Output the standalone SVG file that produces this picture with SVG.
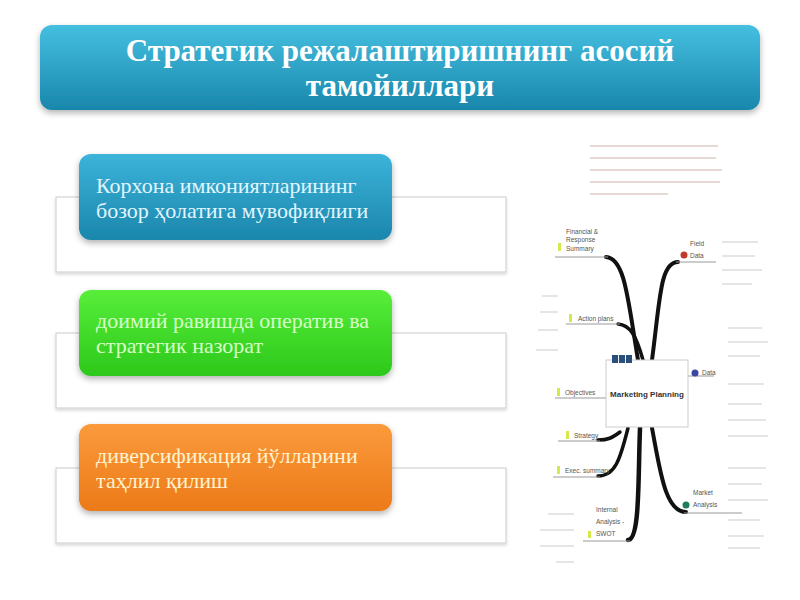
<svg xmlns="http://www.w3.org/2000/svg" width="800" height="600" viewBox="0 0 800 600">
<defs>
<linearGradient id="gTitle" x1="0" y1="0" x2="0" y2="1"><stop offset="0" stop-color="#45bfe0"/><stop offset="1" stop-color="#1887ab"/></linearGradient>
<linearGradient id="gBlue" x1="0" y1="0" x2="0" y2="1"><stop offset="0" stop-color="#3cb3da"/><stop offset="1" stop-color="#1b86ac"/></linearGradient>
<linearGradient id="gGreen" x1="0" y1="0" x2="0" y2="1"><stop offset="0" stop-color="#58ee3a"/><stop offset="1" stop-color="#2cc81b"/></linearGradient>
<linearGradient id="gOrange" x1="0" y1="0" x2="0" y2="1"><stop offset="0" stop-color="#fb9a3c"/><stop offset="1" stop-color="#ec7a18"/></linearGradient>
<filter id="sh" x="-10%" y="-10%" width="120%" height="130%"><feDropShadow dx="0" dy="3" stdDeviation="3" flood-color="#000" flood-opacity="0.3"/></filter>
<filter id="sh2" x="-5%" y="-10%" width="110%" height="130%"><feDropShadow dx="0" dy="2" stdDeviation="1.5" flood-color="#000" flood-opacity="0.15"/></filter>
</defs>
<style>
.title{font-family:"Liberation Serif",serif;font-weight:bold;font-size:31px;fill:#fff;text-anchor:middle}
.lbl{font-family:"Liberation Serif",serif;font-size:22px}
.outer{fill:#fff;stroke:#d2d6d6;stroke-width:1.2}
.br{fill:none;stroke:#111;stroke-linecap:round}
.ul{fill:none;stroke:#999;stroke-width:1}
.mm{font-family:"Liberation Sans",sans-serif;font-size:6.5px;fill:#555}
.faint{stroke:#ddd;stroke-width:1.5}
.fp{stroke:#e6d8d4;stroke-width:2}
</style>
<rect width="800" height="600" fill="#fff"/>
<g id="title">
<rect x="40" y="25" width="720" height="85" rx="12" fill="url(#gTitle)" filter="url(#sh)"/>
<text class="title" x="400" y="61">Стратегик режалаштиришнинг асосий</text>
<text class="title" x="400" y="96">тамойиллари</text>
</g>
<g id="item1">
<rect class="outer" x="56" y="197" width="450" height="75" filter="url(#sh2)"/>
<rect x="79" y="154" width="313" height="86" rx="12" fill="url(#gBlue)" filter="url(#sh)"/>
<text class="lbl" x="96" y="193" fill="#e2f6ff">Корхона имкониятларининг</text>
<text class="lbl" x="96" y="218" fill="#e2f6ff">бозор ҳолатига мувофиқлиги</text>
</g>
<g id="item2">
<rect class="outer" x="56" y="333" width="450" height="75" filter="url(#sh2)"/>
<rect x="79" y="290" width="313" height="86" rx="12" fill="url(#gGreen)" filter="url(#sh)"/>
<text class="lbl" x="96" y="328" fill="#d6ffc8">доимий равишда оператив ва</text>
<text class="lbl" x="96" y="353" fill="#d6ffc8">стратегик назорат</text>
</g>
<g id="item3">
<rect class="outer" x="56" y="468" width="450" height="75" filter="url(#sh2)"/>
<rect x="79" y="424" width="313" height="87" rx="12" fill="url(#gOrange)" filter="url(#sh)"/>
<text class="lbl" x="96" y="463" fill="#fff3cf">диверсификация йўлларини</text>
<text class="lbl" x="96" y="488" fill="#fff3cf">таҳлил қилиш</text>
</g>
<g id="connectors">
<path class="br" stroke-width="4" d="M638,360 C628,300 625,258 606,257"/>
<path class="br" stroke-width="3.5" d="M643,360 C636,335 630,325 618,324"/>
<path class="br" stroke-width="4" d="M652,360 C660,300 660,262 678,262"/>
<path class="br" stroke-width="3.5" d="M620,432 C612,438 608,440 598,440"/>
<path class="br" stroke-width="3.5" d="M628,428 C620,460 615,476 598,476"/>
<path class="br" stroke-width="4.5" d="M640,428 C638,480 640,540 628,540"/>
<path class="br" stroke-width="4" d="M652,428 C660,470 665,512 686,512"/>
<path class="ul" d="M555,257 H608"/>
<path class="ul" d="M566,324 H620"/>
<path class="ul" d="M555,398 H606"/>
<path class="ul" d="M558,441 H600"/>
<path class="ul" d="M553,477 H600"/>
<path class="ul" d="M583,541 H630"/>
<path class="ul" d="M676,262 H716"/>
<path class="ul" d="M688,376 H714"/>
<path class="ul" d="M684,513 H742"/>
</g>
<g id="mindmap-center">
<rect x="606" y="360" width="82" height="67" fill="#fff" stroke="#ccc" stroke-width="1"/>
<rect x="612" y="355" width="6" height="8" fill="#2a4f7a"/>
<rect x="619" y="355" width="6" height="8" fill="#2a4f7a"/>
<rect x="626" y="355" width="6" height="8" fill="#2a4f7a"/>
<text x="647" y="397" font-family="Liberation Sans,sans-serif" font-size="8" font-weight="bold" fill="#333" text-anchor="middle">Marketing Planning</text>
</g>
<g id="mm-left">
<rect x="558" y="243" width="3" height="8" fill="#d6e84a"/>
<text class="mm" x="566" y="234">Financial &amp;</text>
<text class="mm" x="566" y="242">Response</text>
<text class="mm" x="566" y="251">Summary</text>
<rect x="569" y="314" width="3" height="8" fill="#d6e84a"/>
<text class="mm" x="578" y="321">Action plans</text>
<rect x="557" y="388" width="3" height="8" fill="#d6e84a"/>
<text class="mm" x="565" y="395">Objectives</text>
<rect x="566" y="431" width="3" height="8" fill="#d6e84a"/>
<text class="mm" x="574" y="438">Strategy</text>
<rect x="557" y="466" width="3" height="8" fill="#d6e84a"/>
<text class="mm" x="565" y="473" font-size="5.5">Exec. summary</text>
<rect x="588" y="531" width="3" height="7" fill="#d6e84a"/>
<text class="mm" x="596" y="512">Internal</text>
<text class="mm" x="596" y="524">Analysis -</text>
<text class="mm" x="596" y="536">SWOT</text>
</g>
<g id="mm-right">
<circle cx="684" cy="255" r="3.5" fill="#c0392b"/>
<text class="mm" x="690" y="246">Field</text>
<text class="mm" x="690" y="258">Data</text>
<circle cx="695" cy="373" r="3.5" fill="#3a46a0"/>
<text class="mm" x="702" y="375">Data</text>
<circle cx="686" cy="505" r="3.5" fill="#1e7e5a"/>
<text class="mm" x="693" y="495">Market</text>
<text class="mm" x="693" y="507">Analysis</text>
</g>
<g id="mm-faint">
<line class="fp" x1="590" y1="146" x2="718" y2="146"/>
<line class="fp" x1="590" y1="158" x2="716" y2="158"/>
<line class="fp" x1="590" y1="170" x2="722" y2="170"/>
<line class="fp" x1="590" y1="182" x2="720" y2="182"/>
<line class="fp" x1="590" y1="194" x2="668" y2="194"/>
<line class="faint" x1="722" y1="242" x2="758" y2="242"/>
<line class="faint" x1="722" y1="256" x2="755" y2="256"/>
<line class="faint" x1="722" y1="270" x2="762" y2="270"/>
<line class="faint" x1="722" y1="284" x2="752" y2="284"/>
<line class="faint" x1="728" y1="328" x2="762" y2="328"/>
<line class="faint" x1="728" y1="342" x2="768" y2="342"/>
<line class="faint" x1="728" y1="356" x2="760" y2="356"/>
<line class="faint" x1="728" y1="384" x2="764" y2="384"/>
<line class="faint" x1="728" y1="404" x2="762" y2="404"/>
<line class="faint" x1="728" y1="420" x2="766" y2="420"/>
<line class="faint" x1="728" y1="436" x2="768" y2="436"/>
<line class="faint" x1="728" y1="468" x2="766" y2="468"/>
<line class="faint" x1="728" y1="484" x2="762" y2="484"/>
<line class="faint" x1="728" y1="500" x2="768" y2="500"/>
<line class="faint" x1="728" y1="520" x2="760" y2="520"/>
<line class="faint" x1="728" y1="536" x2="764" y2="536"/>
<line class="faint" x1="728" y1="548" x2="760" y2="548"/>
<line class="faint" x1="542" y1="296" x2="558" y2="296"/>
<line class="faint" x1="540" y1="312" x2="558" y2="312"/>
<line class="faint" x1="538" y1="330" x2="558" y2="330"/>
<line class="faint" x1="536" y1="350" x2="558" y2="350"/>
<line class="faint" x1="548" y1="514" x2="574" y2="514"/>
<line class="faint" x1="540" y1="530" x2="574" y2="530"/>
<line class="faint" x1="540" y1="546" x2="574" y2="546"/>
<line class="faint" x1="556" y1="562" x2="574" y2="562"/>
</g>
</svg>
